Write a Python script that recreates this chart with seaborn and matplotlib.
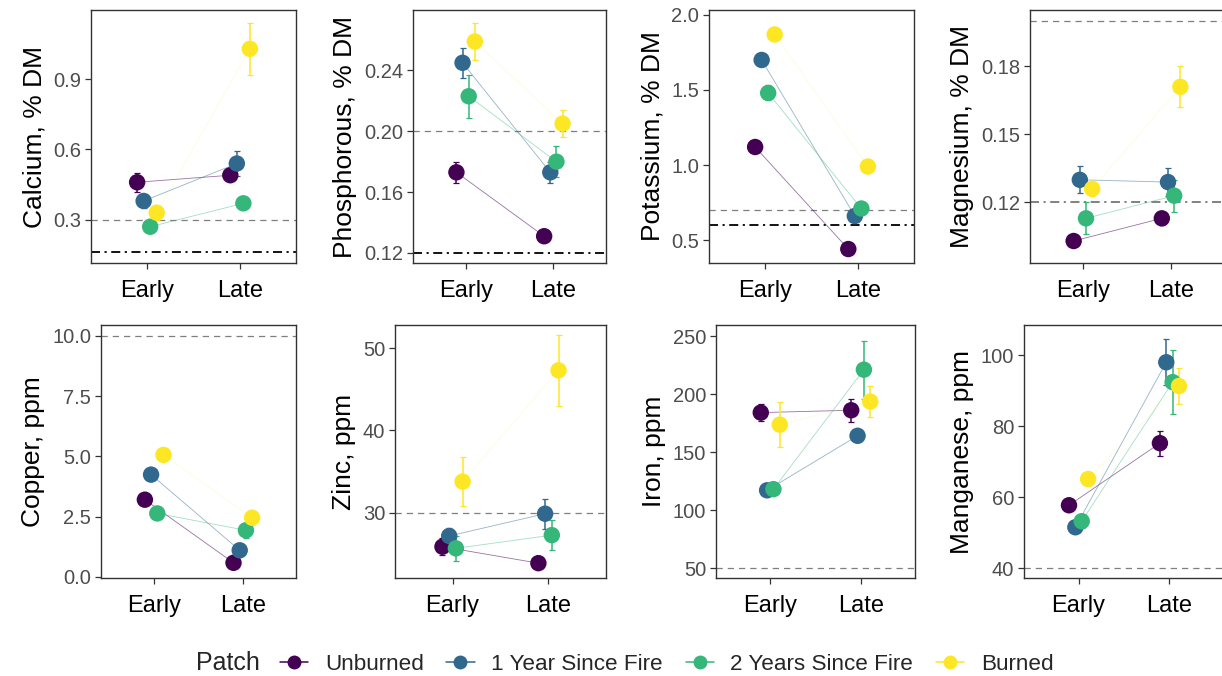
import numpy as np
import pandas as pd
import matplotlib
matplotlib.use("Agg")
import matplotlib.pyplot as plt
from matplotlib.lines import Line2D
import seaborn as sns

# ---- data: group means and standard errors, [Early, Late] x patch ----
patches = ["Unburned", "1 Year Since Fire", "2 Years Since Fire", "Burned"]
seasons = ["Early", "Late"]

calcium = [[0.46, 0.38, 0.27, 0.33], [0.49, 0.54, 0.37, 1.03]]
calcium_se = [[0.04, 0.03, 0.025, 0.03], [0.02, 0.055, 0.02, 0.11]]

phosphorous = [[0.173, 0.245, 0.223, 0.259], [0.131, 0.173, 0.180, 0.205]]
phosphorous_se = [[0.007, 0.010, 0.014, 0.012], [0.003, 0.007, 0.010, 0.009]]

potassium = [[1.12, 1.70, 1.48, 1.87], [0.44, 0.66, 0.71, 0.99]]
potassium_se = [[0.03, 0.04, 0.05, 0.03], [0.02, 0.03, 0.03, 0.03]]

magnesium = [[0.103, 0.130, 0.113, 0.126], [0.113, 0.129, 0.123, 0.171]]
magnesium_se = [[0.002, 0.006, 0.007, 0.003], [0.003, 0.006, 0.007, 0.009]]

copper = [[3.2, 4.24, 2.63, 5.06], [0.58, 1.1, 1.93, 2.45]]
copper_se = [[0.2, 0.2, 0.15, 0.2], [0.1, 0.25, 0.3, 0.3]]

zinc = [[25.9, 27.2, 25.7, 33.8], [23.9, 29.9, 27.3, 47.3]]
zinc_se = [[1.0, 1.0, 1.5, 3.0], [0.5, 1.8, 1.8, 4.3]]

iron = [[184, 117, 118, 173.6], [186, 164, 221, 193.5]]
iron_se = [[7, 4, 4, 19.5], [10, 5, 25, 13]]

manganese = [[57.7, 51.5, 53.2, 65.1], [75.2, 98.0, 92.4, 91.3]]
manganese_se = [[1.5, 1.5, 2.0, 2.0], [3.5, 6.5, 9.0, 5.0]]

# requirement lines drawn on each panel
calcium_dashed, calcium_dotdash = [0.3], [0.16]
phosphorous_dashed, phosphorous_dotdash = [0.20], [0.12]
potassium_dashed, potassium_dotdash = [0.7], [0.6]
magnesium_dashed, magnesium_dotdash = [0.20], [0.12]
copper_dashed, copper_dotdash = [10.0], []
zinc_dashed, zinc_dotdash = [30], []
iron_dashed, iron_dotdash = [50], []
manganese_dashed, manganese_dotdash = [40], []

palette = dict(zip(patches, ["#440154", "#31688E", "#35B779", "#FDE725"]))
line_alpha = dict(zip(patches, [0.55, 0.5, 0.45, 0.15]))

panels = [
    # (means, se, ylabel, ticks, ticklabels, ylim, dashed, dotdash, dotdash colour, axes box in px)
    (calcium, calcium_se, "Calcium, % DM", [0.3, 0.6, 0.9], ["0.3", "0.6", "0.9"],
     (0.115, 1.196), calcium_dashed, calcium_dotdash, "black", (91, 296, 10, 263)),
    (phosphorous, phosphorous_se, "Phosphorous, % DM", [0.12, 0.16, 0.20, 0.24],
     ["0.12", "0.16", "0.20", "0.24"], (0.1134, 0.2797), phosphorous_dashed,
     phosphorous_dotdash, "black", (413, 606, 10, 263)),
    (potassium, potassium_se, "Potassium, % DM", [0.5, 1.0, 1.5, 2.0],
     ["0.5", "1.0", "1.5", "2.0"], (0.347, 2.033), potassium_dashed, potassium_dotdash,
     "black", (709, 914, 10, 263)),
    (magnesium, magnesium_se, "Magnesium, % DM", [0.12, 0.15, 0.18],
     ["0.12", "0.15", "0.18"], (0.0933, 0.2049), magnesium_dashed, magnesium_dotdash,
     "#777777", (1030, 1224, 10, 263)),
    (copper, copper_se, "Copper, ppm", [0, 2.5, 5, 7.5, 10],
     ["0.0", "2.5", "5.0", "7.5", "10.0"], (-0.05, 10.45), copper_dashed, copper_dotdash,
     "black", (101, 296, 325, 578)),
    (zinc, zinc_se, "Zinc, ppm", [30, 40, 50], ["30", "40", "50"], (22.1, 52.8),
     zinc_dashed, zinc_dotdash, "black", (395, 606, 325, 578)),
    (iron, iron_se, "Iron, ppm", [50, 100, 150, 200, 250],
     ["50", "100", "150", "200", "250"], (41.4, 259.5), iron_dashed, iron_dotdash,
     "black", (716, 915, 325, 578)),
    (manganese, manganese_se, "Manganese, ppm", [40, 60, 80, 100],
     ["40", "60", "80", "100"], (37.2, 108.5), manganese_dashed, manganese_dotdash,
     "black", (1024, 1224, 325, 578)),
]

sns.set_theme(style="white")
plt.rcParams["font.family"] = ["Liberation Sans", "DejaVu Sans"]

W, H = 1222, 676
fig = plt.figure(figsize=(W / 100, H / 100), dpi=100)

dodge = 0.28
offsets = np.linspace(-dodge * 3 / 8, dodge * 3 / 8, len(patches))

for means, ses, ylabel, ticks, ticklabels, ylim, dashed, dotdash, dd_col, box in panels:
    x0, x1, top, bottom = box
    ax = fig.add_axes([x0 / W, (H - bottom) / H, (x1 - x0) / W, (bottom - top) / H])

    rows = []
    for si, season in enumerate(seasons):
        for pi, patch in enumerate(patches):
            rows.append({"Season": season, "Patch": patch,
                         "x": si + offsets[pi],
                         "mean": means[si][pi], "se": ses[si][pi]})
    df = pd.DataFrame(rows)

    for v in dashed:
        ax.axhline(v, color="#7f7f7f", lw=0.9, ls=(0, (5, 4)), zorder=1)
    for v in dotdash:
        ax.axhline(v, color=dd_col, lw=1.3, ls=(0, (5, 2.5, 1.2, 2.5)), zorder=1)

    # thin connectors between seasons for each patch
    for patch in patches:
        sns.lineplot(data=df[df["Patch"] == patch], x="x", y="mean",
                     color=palette[patch], estimator=None, lw=0.6,
                     alpha=line_alpha[patch], legend=False, ax=ax, zorder=2)
    for _, r in df.iterrows():
        ax.errorbar(r["x"], r["mean"], yerr=r["se"], fmt="none",
                    ecolor=palette[r["Patch"]], elinewidth=1.1, capsize=2.2,
                    capthick=0.9, zorder=3)
    sns.scatterplot(data=df, x="x", y="mean", hue="Patch", hue_order=patches,
                    palette=palette, s=140, edgecolor="none", linewidth=0,
                    legend=False, ax=ax, zorder=4)

    ax.set_xlim(-0.6, 1.6)
    ax.set_ylim(*ylim)
    ax.set_xticks([0, 1])
    ax.set_xticklabels(seasons, fontsize=17, color="black")
    ax.set_yticks(ticks)
    ax.set_yticklabels(ticklabels, fontsize=14.5, color="#4d4d4d")
    ax.set_xlabel("")
    ax.set_ylabel(ylabel, fontsize=19, color="black", labelpad=5)
    ax.tick_params(axis="both", direction="out", length=4, width=0.9,
                   color="#333333", pad=3, bottom=True, left=True)
    ax.tick_params(axis="x", pad=8)
    for sp in ax.spines.values():
        sp.set_color("#333333")
        sp.set_linewidth(1.0)
    ax.set_facecolor("white")

# legend along the bottom, title on the left
fig.text(196 / W, (H - 663) / H, "Patch", fontsize=18, ha="left", va="center")
handles = [Line2D([0], [0], color=palette[p], marker="o", markersize=10, lw=1.1,
                  markeredgewidth=0) for p in patches]
fig.legend(handles, patches, loc="center left", bbox_to_anchor=(280 / W, (H - 664) / H),
           ncol=4, frameon=False, fontsize=16.2, handlelength=1.25, handletextpad=0.75,
           columnspacing=1.0, borderpad=0, borderaxespad=0)

fig.savefig("out.png", dpi=100, facecolor="white")
